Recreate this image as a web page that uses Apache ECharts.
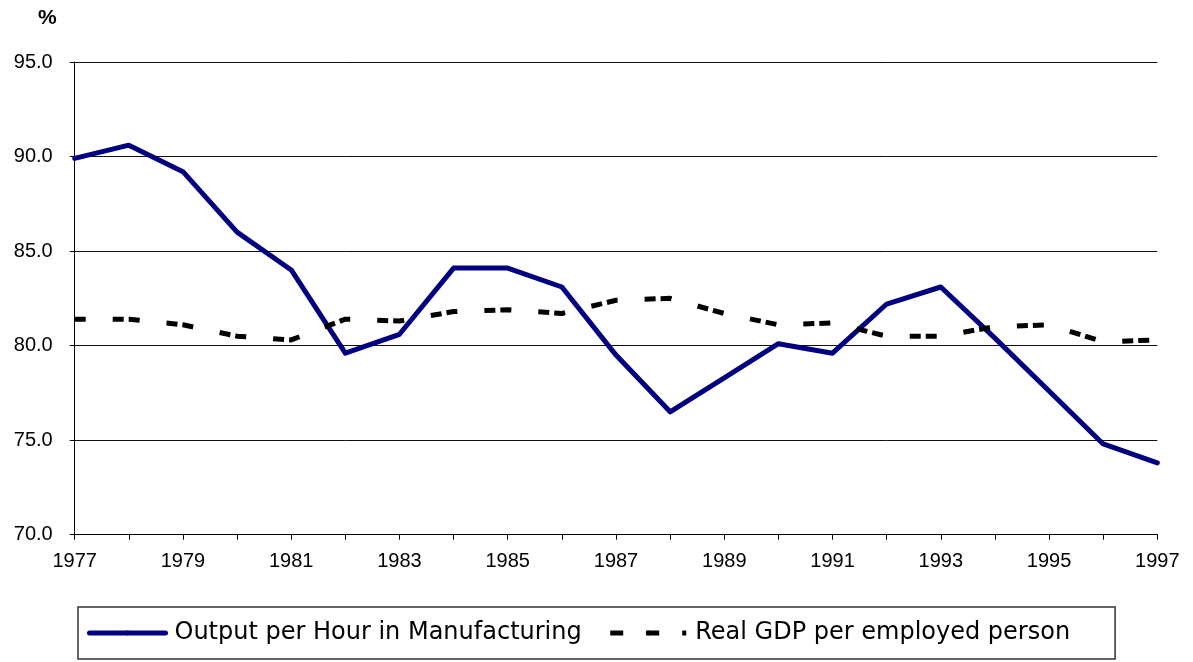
<!DOCTYPE html>
<html>
<head>
<meta charset="utf-8">
<script src="https://cdn.jsdelivr.net/npm/echarts@6/dist/echarts.min.js"></script>
<style>
html,body{margin:0;padding:0;background:#fff;}
#chart{width:1193px;height:662px;}
</style>
</head>
<body>
<div id="chart"></div>
<script>
const years = ['1977','1978','1979','1980','1981','1982','1983','1984','1985','1986','1987','1988','1989','1990','1991','1992','1993','1994','1995','1996','1997'];
const manufacturing = [89.9, 90.6, 89.2, 86.0, 84.0, 79.6, 80.6, 84.1, 84.1, 83.1, 79.5, 76.5, 78.3, 80.1, 79.6, 82.2, 83.1, 80.4, 77.6, 74.8, 73.8];
const realGdp = [81.4, 81.4, 81.1, 80.5, 80.3, 81.4, 81.3, 81.8, 81.9, 81.7, 82.4, 82.5, 81.7, 81.1, 81.2, 80.5, 80.5, 81.0, 81.1, 80.2, 80.3];
const seriesNames = ['Output per Hour in Manufacturing', 'Real GDP per employed person'];
const yTicks = {min: 70, max: 95, step: 5};
const unitLabel = '%';

const chart = echarts.init(document.getElementById('chart'));
chart.setOption({
  animation: false,
  backgroundColor: '#fff',
  title: {
    text: unitLabel,
    left: 33, top: 3,
    textStyle: {fontFamily: 'Liberation Sans', fontSize: 21, fontWeight: 'bold', color: '#000'}
  },
  grid: {left: 74.7, right: 35.7, top: 62, bottom: 127.3, containLabel: false},
  xAxis: {
    type: 'category',
    data: years,
    boundaryGap: false,
    axisLine: {lineStyle: {color: '#000', width: 1}},
    axisTick: {show: true, interval: 0, length: 5, lineStyle: {color: '#000'}},
    axisLabel: {interval: 1, margin: 17, color: '#000', fontFamily: 'Liberation Sans', fontSize: 20},
    splitLine: {show: false}
  },
  yAxis: {
    type: 'value',
    min: yTicks.min, max: yTicks.max, interval: yTicks.step,
    axisLine: {show: true, lineStyle: {color: '#000', width: 1}},
    axisTick: {show: true, length: 5, lineStyle: {color: '#000'}},
    axisLabel: {margin: 22, color: '#000', fontFamily: 'Liberation Sans', fontSize: 20,
      formatter: v => v.toFixed(1)},
    splitLine: {show: true, lineStyle: {color: '#111', width: 1}}
  },
  legend: {
    left: 78, top: 607,
    orient: 'horizontal',
    padding: [14, 45, 14, 9],
    borderColor: '#333', borderWidth: 1.5,
    itemWidth: 76, itemHeight: 6, itemGap: 26,
    textStyle: {fontFamily: 'DejaVu Sans', fontSize: 24, color: '#000', padding: [0, 0, 0, 4]},
    lineStyle: {type: [13, 23], dashOffset: 0, width: 5},
    data: [
      {name: seriesNames[0], lineStyle: {type: 'solid', width: 5, cap: 'round'}},
      {name: seriesNames[1], lineStyle: {type: [13, 23], dashOffset: 0, width: 5}}
    ]
  },
  series: [
    {
      name: seriesNames[0], type: 'line', data: manufacturing,
      showSymbol: false, symbol: 'none',
      lineStyle: {color: '#000080', width: 5, cap: 'round', join: 'round'},
      itemStyle: {color: '#000080'}
    },
    {
      name: seriesNames[1], type: 'line', data: realGdp,
      showSymbol: false, symbol: 'none',
      lineStyle: {color: '#000', width: 5, type: [11, 5, 11, 27], dashOffset: 16},
      itemStyle: {color: '#000'}
    }
  ]
});
</script>
</body>
</html>
